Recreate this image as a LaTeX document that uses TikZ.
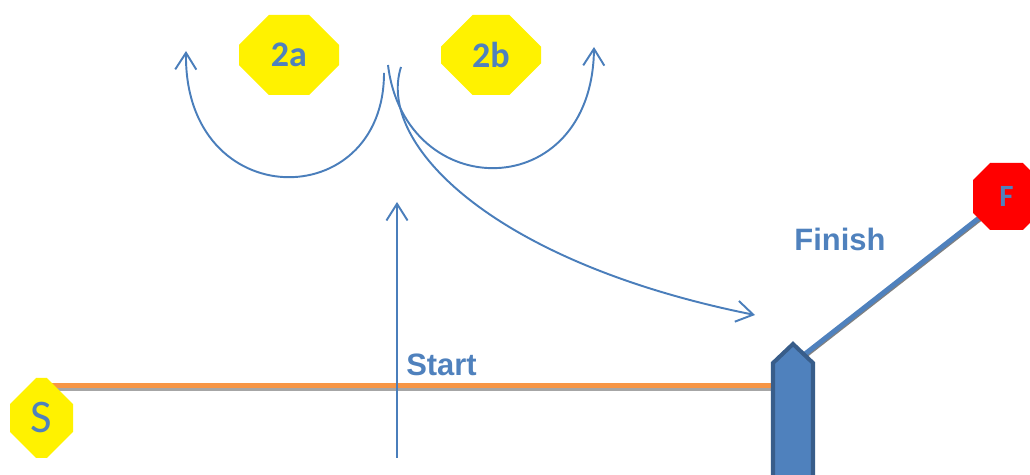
\documentclass[tikz,border=0pt]{standalone}
\usepackage{fontspec}
\setmainfont{Liberation Sans}
\newfontfamily\calibri{Carlito}
\usetikzlibrary{arrows.meta,shapes.misc,backgrounds}

\definecolor{bleu}{HTML}{4F81BD}
\definecolor{bleufonce}{HTML}{385D8A}
\definecolor{trait}{HTML}{4A7EBB}
\definecolor{piste}{HTML}{F79646}

\tikzset{
  octo/.style n args={3}{chamfered rectangle, chamfered rectangle sep=#3*0.02cm,
    minimum width=#1*0.02cm, minimum height=#2*0.02cm, inner sep=0pt, outer sep=0pt,
    draw=none, text=bleu},
  fleche/.style={draw=trait, line width=1.1pt,
    -{Straight Barb[length=9.5pt,width=12pt,line width=1.1pt]}},
  titre/.style={text=bleu, font=\bfseries\fontsize{17.6pt}{20pt}\selectfont}
}

\begin{document}
\begin{tikzpicture}[x=0.02cm, y=0.02cm]
  \useasboundingbox (0,0) rectangle (1030,475);

  % panneaux
  \node[octo={63}{80}{17}, fill=yellow, font=\calibri\fontsize{26.6pt}{30pt}\selectfont] (S) at (41.5,57) {S};
  \node[octo={100}{80}{21}, fill=yellow, font=\calibri\bfseries\fontsize{20.5pt}{24pt}\selectfont] (deuxA) at (289,420) {2a};
  \node[octo={100}{80}{21}, fill=yellow, font=\calibri\bfseries\fontsize{20.5pt}{24pt}\selectfont] (deuxB) at (491,420) {2b};
  \node[octo={67}{67}{19}, fill=red, font=\calibri\bfseries\fontsize{17.6pt}{20pt}\selectfont] (F) at (1006.5,278.5) {F};

  % textes
  \node[titre] (start) at (441.5,110) {Start};
  \node[titre] (finish) at (840,236) {Finish};

  % points des traits
  \coordinate (pisteG) at (41.5,89.5);
  \coordinate (pisteD) at (775,89.5);
  \coordinate (poteau) at (805,121);
  \coordinate (startB) at (397,17);
  \coordinate (startH) at (397,273);
  \coordinate (arcA) at (384,402);
  \coordinate (finA) at (186,424);
  \coordinate (arcB) at (388,410);
  \coordinate (finB) at (594,428);
  \coordinate (longD) at (401,408);
  \coordinate (longF) at (755,160);

  \begin{scope}[on background layer]
    % piste
    \draw[gray!70, line width=1.8pt] ([yshift=-2.4pt]pisteG) -- ([yshift=-2.4pt]pisteD);
    \draw[piste, line width=3pt] (pisteG) -- (pisteD);

    % trait vers F
    \draw[gray, line width=1.4pt] ([shift={(1.8,-1.8)}]poteau) -- ([shift={(1.8,-1.8)}]F.center);
    \draw[bleu, line width=2.8pt] (poteau) -- (F.center);

    % poteau
    \filldraw[fill=bleu, draw=bleufonce, line width=2.3pt, line join=miter]
      (773,-10) -- (773,112) -- (793,131) -- (813,112) -- (813,-10) -- cycle;
  \end{scope}

  % fleche start
  \draw[fleche] (startB) -- (startH);

  % arc 2a
  \draw[fleche] (arcA) .. controls (384,260) and (184,260) .. (finA);

  % arc 2b
  \draw[fleche] (arcB) .. controls (405,270) and (592,270) .. (finB);

  % fleche longue
  \draw[fleche] (longD) .. controls (376,330) and (495,212) .. (longF);

\end{tikzpicture}
\end{document}
